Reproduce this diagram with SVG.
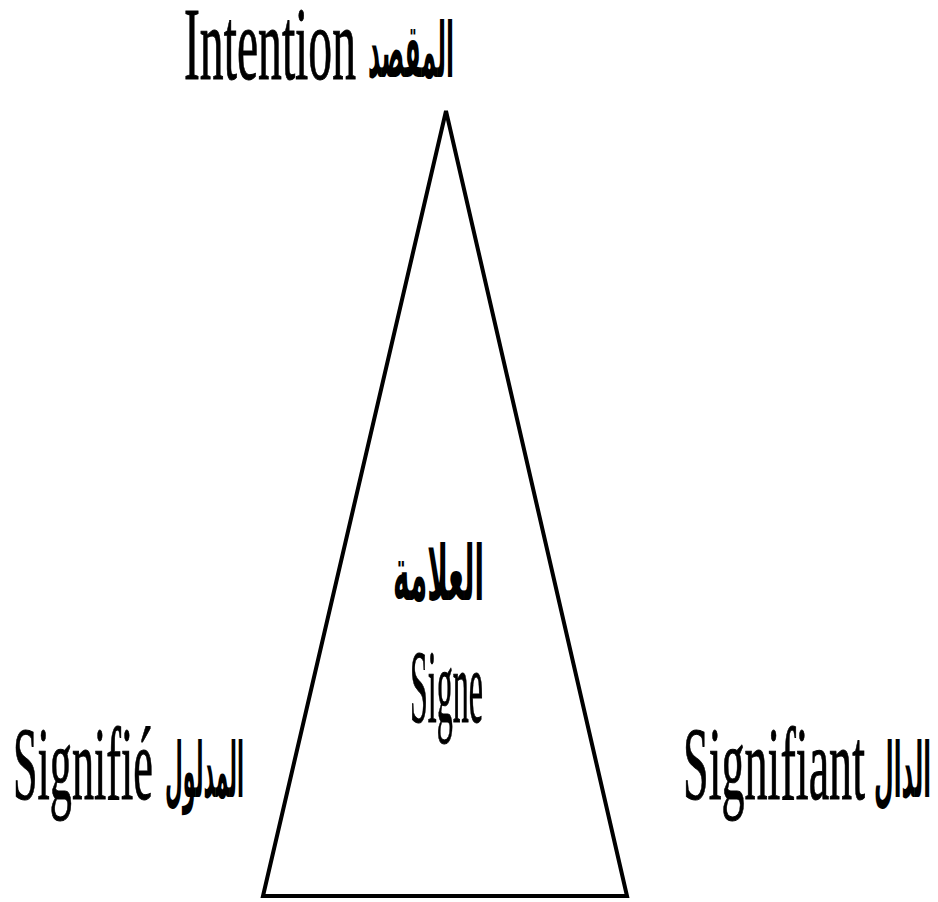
<svg xmlns="http://www.w3.org/2000/svg" width="938" height="902" viewBox="0 0 938 902">
<style>
.lat{font-family:"Liberation Serif","Times New Roman",serif;font-size:104px;fill:#000;stroke:#000;stroke-width:1}
.ar{font-family:"DejaVu Sans","Noto Sans",sans-serif;font-size:76px;fill:#000;font-weight:bold}
</style>
<rect width="938" height="902" fill="#fff"/>
<g id="connectors">
<polygon points="446,111 263,896 627,896" fill="none" stroke="#000" stroke-width="4" stroke-linejoin="miter"/>
</g>
<g id="intention">
<text class="lat" x="184" y="79" textLength="172" lengthAdjust="spacingAndGlyphs">Intention</text>
<text class="ar" x="368" y="77" textLength="86" lengthAdjust="spacingAndGlyphs">المقصد</text>
</g>
<g id="signe">
<text class="ar" x="393" y="600" textLength="91" lengthAdjust="spacingAndGlyphs">العلامة</text>
<text class="lat" x="410" y="722" font-size="80" textLength="73" lengthAdjust="spacingAndGlyphs">Signe</text>
</g>
<g id="signifie">
<text class="lat" x="13" y="799" textLength="140" lengthAdjust="spacingAndGlyphs">Signifié</text>
<text class="ar" x="165" y="797" textLength="79" lengthAdjust="spacingAndGlyphs">المدلول</text>
</g>
<g id="signifiant">
<text class="lat" x="683" y="799" textLength="182" lengthAdjust="spacingAndGlyphs">Signifiant</text>
<text class="ar" x="874" y="797" textLength="57" lengthAdjust="spacingAndGlyphs">الدال</text>
</g>
</svg>
